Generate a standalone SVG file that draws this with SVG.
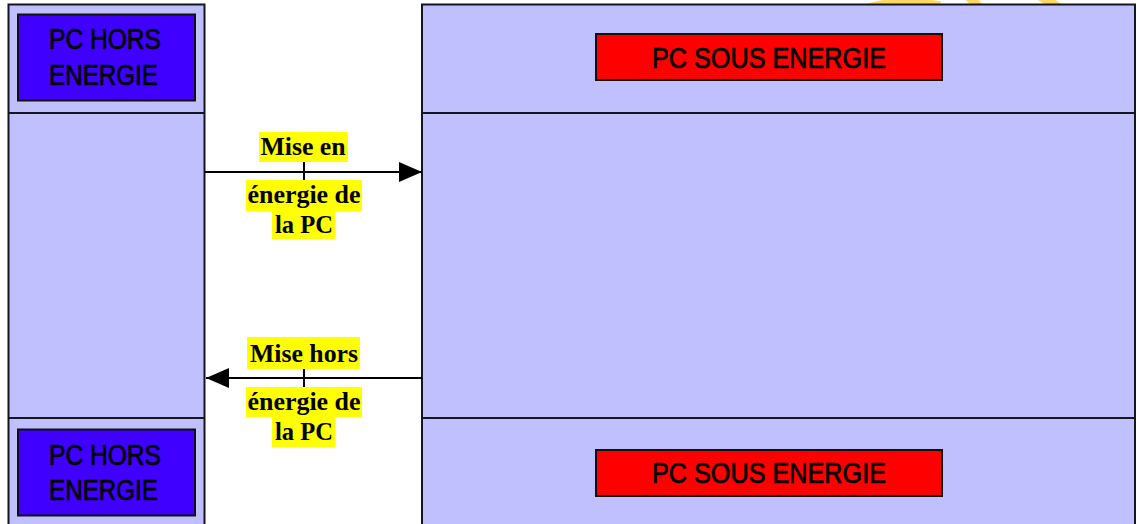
<svg xmlns="http://www.w3.org/2000/svg" width="1139" height="524" viewBox="0 0 1139 524">
<style>
.lane{fill:#c0c0ff;stroke:#15151f;stroke-width:2}
.div{stroke:#15151f;stroke-width:2}
.off{fill:#3f00ff;stroke:#111;stroke-width:2}
.on{fill:#ff0000;stroke:#111;stroke-width:2}
.cap{font-family:"Liberation Sans","DejaVu Sans",sans-serif;font-size:29px;fill:#000;stroke:#000;stroke-width:0.7;text-anchor:middle}
.lbl{font-family:"Liberation Serif","DejaVu Serif",serif;font-weight:bold;font-size:26px;fill:#000;text-anchor:middle}
.hl{fill:#ffff00}
.conn{stroke:#000;stroke-width:2;fill:none}
.wm{stroke:#ffd860;stroke-width:9;fill:none}
</style>
<defs>
<marker id="ah" markerUnits="userSpaceOnUse" markerWidth="24" markerHeight="22" refX="23" refY="10" orient="auto">
<path d="M0,0 L23,10 L0,20 Z" fill="#000"/>
</marker>
</defs>
<rect width="1139" height="524" fill="#fff"/>
<g id="watermark">
<path class="wm" d="M868,8 Q905,-2 940,6"/>
<path class="wm" d="M968,-4 L984,12"/>
<path class="wm" d="M1040,-4 L1066,12"/>
</g>
<g id="lane-left">
<rect class="lane" x="8.5" y="4.5" width="196" height="530"/>
<line class="div" x1="8.5" y1="113" x2="204.5" y2="113"/>
<line class="div" x1="8.5" y1="418" x2="204.5" y2="418"/>
</g>
<g id="lane-right">
<rect class="lane" x="422" y="4.5" width="713" height="530"/>
<line class="div" x1="422" y1="113" x2="1135" y2="113"/>
<line class="div" x1="422" y1="418" x2="1135" y2="418"/>
</g>
<g id="node-off-top">
<rect class="off" x="18" y="14.5" width="177" height="86"/>
<text class="cap" x="105" y="49" textLength="112" lengthAdjust="spacingAndGlyphs">PC HORS</text>
<text class="cap" x="103.5" y="85" textLength="109" lengthAdjust="spacingAndGlyphs">ENERGIE</text>
</g>
<g id="node-on-top">
<rect class="on" x="596" y="34" width="346" height="46"/>
<text class="cap" x="769" y="68" textLength="234" lengthAdjust="spacingAndGlyphs">PC SOUS ENERGIE</text>
</g>
<g id="node-off-bottom">
<rect class="off" x="18" y="429.5" width="177" height="86"/>
<text class="cap" x="105" y="465" textLength="112" lengthAdjust="spacingAndGlyphs">PC HORS</text>
<text class="cap" x="103.5" y="500" textLength="109" lengthAdjust="spacingAndGlyphs">ENERGIE</text>
</g>
<g id="node-on-bottom">
<rect class="on" x="596" y="450" width="346" height="46"/>
<text class="cap" x="769" y="483" textLength="234" lengthAdjust="spacingAndGlyphs">PC SOUS ENERGIE</text>
</g>
<g id="connectors">
<g id="conn-on">
<line class="conn" x1="205" y1="172" x2="422" y2="172" marker-end="url(#ah)"/>
<line class="conn" x1="304" y1="162" x2="304" y2="181"/>
<rect class="hl" x="259" y="132" width="89" height="30"/>
<rect class="hl" x="246" y="180" width="116" height="31"/>
<rect class="hl" x="272" y="211" width="63" height="28"/>
<text class="lbl" x="303" y="155" textLength="85" lengthAdjust="spacingAndGlyphs">Mise en</text>
<text class="lbl" x="304" y="203" textLength="113" lengthAdjust="spacingAndGlyphs">énergie de</text>
<text class="lbl" x="304" y="233" textLength="58" lengthAdjust="spacingAndGlyphs">la PC</text>
</g>
<g id="conn-off">
<line class="conn" x1="422" y1="378" x2="206" y2="378" marker-end="url(#ah)"/>
<line class="conn" x1="304" y1="369" x2="304" y2="387"/>
<rect class="hl" x="247" y="337" width="113" height="32"/>
<rect class="hl" x="246" y="387" width="116" height="30"/>
<rect class="hl" x="272" y="417" width="63" height="30"/>
<text class="lbl" x="304" y="362" textLength="108" lengthAdjust="spacingAndGlyphs">Mise hors</text>
<text class="lbl" x="304" y="410" textLength="113" lengthAdjust="spacingAndGlyphs">énergie de</text>
<text class="lbl" x="304" y="440" textLength="58" lengthAdjust="spacingAndGlyphs">la PC</text>
</g>
</g>
</svg>
